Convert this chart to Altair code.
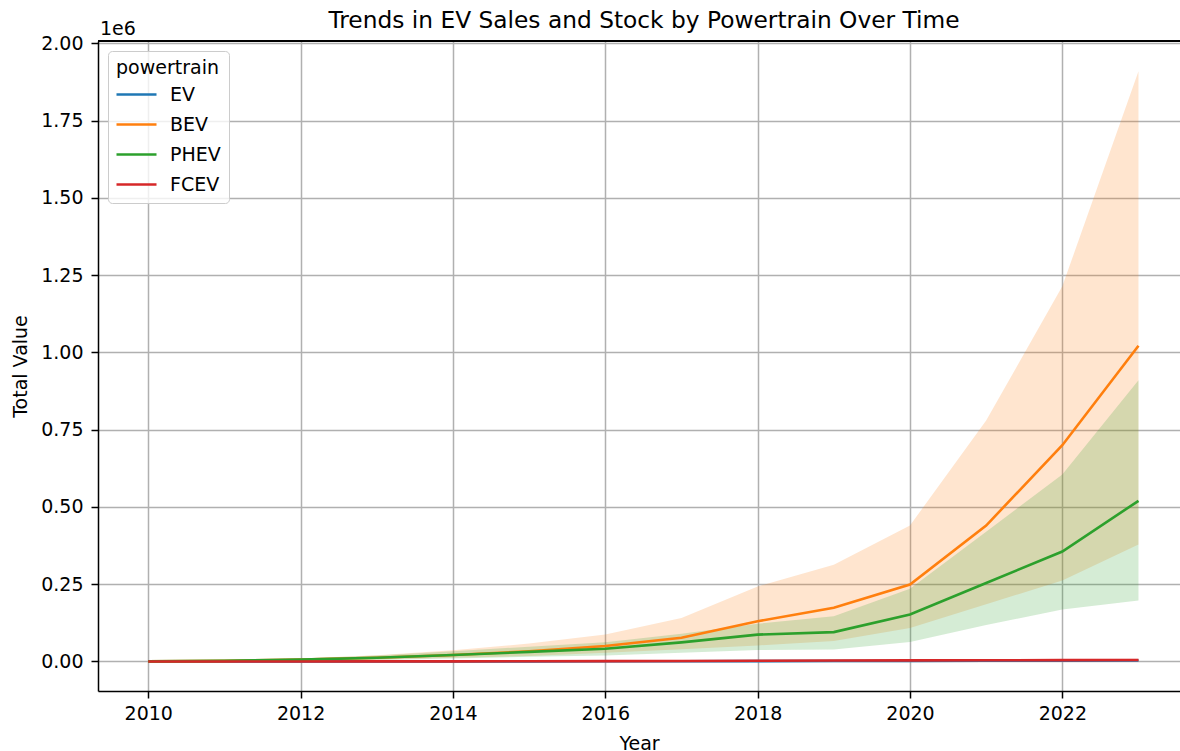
import altair as alt
import pandas as pd

# Yearly totals per powertrain: mean with lower / upper bounds of the interval band
years = list(range(2010, 2024))
powertrains = ["EV", "BEV", "PHEV", "FCEV"]
palette = ["#1f77b4", "#ff7f0e", "#2ca02c", "#d62728"]

ev_mean = [100, 150, 200, 300, 400, 500, 700, 900, 1200, 1500, 1800, 2200, 2600, 3000]
ev_low = [50, 80, 100, 150, 200, 250, 350, 450, 600, 750, 900, 1100, 1300, 1500]
ev_high = [150, 220, 300, 450, 600, 750, 1050, 1350, 1800, 2250, 2700, 3300, 3900, 4500]

bev_mean = [400, 2000, 6000, 12000, 21000, 33000, 50000, 77000, 130000, 174000, 249000, 440000, 700000, 1022000]
bev_low = [100, 800, 3000, 6000, 12000, 18000, 28000, 40000, 52000, 66000, 108000, 185000, 262000, 379000]
bev_high = [800, 4000, 10000, 20000, 36000, 58000, 87000, 141000, 243000, 313000, 440000, 780000, 1214000, 1910000]

phev_mean = [300, 2000, 6000, 12000, 21000, 31000, 41000, 62000, 87000, 95000, 152000, 254000, 356000, 520000]
phev_low = [100, 700, 2000, 5000, 10000, 15000, 19000, 28000, 37000, 39000, 63000, 118000, 168000, 197000]
phev_high = [600, 4000, 10000, 19000, 33000, 48000, 62000, 90000, 122000, 146000, 235000, 420000, 605000, 910000]

fcev_mean = [100, 100, 200, 300, 500, 800, 1200, 1700, 2500, 3000, 3500, 4000, 4500, 5000]
fcev_low = [30, 30, 60, 90, 150, 250, 400, 550, 800, 1000, 1200, 1300, 1500, 1700]
fcev_high = [180, 180, 350, 550, 900, 1400, 2100, 3000, 4400, 5300, 6200, 7100, 8000, 8900]

series = {
    "EV": (ev_mean, ev_low, ev_high),
    "BEV": (bev_mean, bev_low, bev_high),
    "PHEV": (phev_mean, phev_low, phev_high),
    "FCEV": (fcev_mean, fcev_low, fcev_high),
}

rows = []
for pt in powertrains:
    mean, low, high = series[pt]
    for yr, m, lo, hi in zip(years, mean, low, high):
        rows.append({"year": yr, "powertrain": pt, "value": m, "low": lo, "high": hi})
df = pd.DataFrame(rows)

year_ticks = [2010, 2012, 2014, 2016, 2018, 2020, 2022]
value_ticks = [0, 250000, 500000, 750000, 1000000, 1250000, 1500000, 1750000, 2000000]

chart_title = "Trends in EV Sales and Stock by Powertrain Over Time"
offset_text = "1e6"

FONT = "DejaVu Sans"
PLOT_W, PLOT_H = 1082, 650

x_scale = alt.Scale(domain=[2009.34, 2023.545], nice=False, zero=False)
y_scale = alt.Scale(domain=[-95500, 2008000], nice=False, zero=False)

x_axis = alt.Axis(values=year_ticks, format="d", title="Year", grid=True,
                  titlePadding=11)
y_axis = alt.Axis(values=value_ticks, labelExpr="format(datum.value / 1e6, '.2f')",
                  title="Total Value", grid=True, titlePadding=10)

bands = alt.Chart(df).mark_area(opacity=0.2).encode(
    x=alt.X("year:Q", scale=x_scale, axis=x_axis),
    y=alt.Y("low:Q", scale=y_scale, axis=y_axis),
    y2="high:Q",
    color=alt.Color("powertrain:N",
                    scale=alt.Scale(domain=powertrains, range=palette),
                    legend=None),
    detail="powertrain:N",
)

lines = alt.Chart(df).mark_line(strokeWidth=2.6).encode(
    x=alt.X("year:Q", scale=x_scale, axis=x_axis),
    y=alt.Y("value:Q", scale=y_scale, axis=y_axis),
    color=alt.Color(
        "powertrain:N", scale=alt.Scale(domain=powertrains, range=palette),
        sort=powertrains,
        legend=alt.Legend(
            title="powertrain", orient="none", legendX=10, legendY=10,
            symbolType="M-2,0H2", symbolSize=400, symbolStrokeWidth=2.6,
            symbolOffset=9, labelOffset=22, rowPadding=8, padding=8,
            fillColor="rgba(255,255,255,0.8)", strokeColor="#cccccc",
            cornerRadius=4, titleFontWeight="normal", titleFontSize=19,
            labelFontSize=19, titleFont=FONT, labelFont=FONT,
            titleColor="#000000", labelColor="#000000", titlePadding=5,
        ),
    ),
)

# top spine of the axes frame
top_spine = alt.Chart(df).mark_rule(color="#000000", strokeWidth=1.5).encode(
    x=alt.value(0), x2=alt.value(PLOT_W), y=alt.value(0),
)

text_df = pd.DataFrame({"title": [chart_title], "offset": [offset_text]})

offset_label = alt.Chart(text_df).mark_text(
    align="left", baseline="alphabetic", font=FONT, fontSize=19, color="#000000",
).encode(x=alt.value(2), y=alt.value(-6), text="offset:N")

title_label = alt.Chart(text_df).mark_text(
    align="center", baseline="alphabetic", font=FONT, fontSize=23.3, color="#000000",
).encode(x=alt.value(546), y=alt.value(-13), text="title:N")

chart = alt.layer(bands, lines, top_spine, offset_label, title_label).resolve_scale(
    color="independent"
).properties(
    width=PLOT_W,
    height=PLOT_H,
    autosize=alt.AutoSizeParams(type="none"),
    padding={"left": 98, "top": 41, "right": 0, "bottom": 60},
).configure_view(
    stroke=None
).configure_axis(
    labelFont=FONT, titleFont=FONT, labelFontSize=19, titleFontSize=19,
    labelColor="#000000", titleColor="#000000", titleFontWeight="normal",
    domainColor="#000000", domainWidth=1.5, tickColor="#000000",
    tickWidth=1.5, tickSize=7, labelPadding=6,
    gridColor="#b0b0b0", gridWidth=1.5,
).configure_axisY(
    labelPadding=8,
)

chart.save("out.html", embed_options={"renderer": "svg", "actions": False})
